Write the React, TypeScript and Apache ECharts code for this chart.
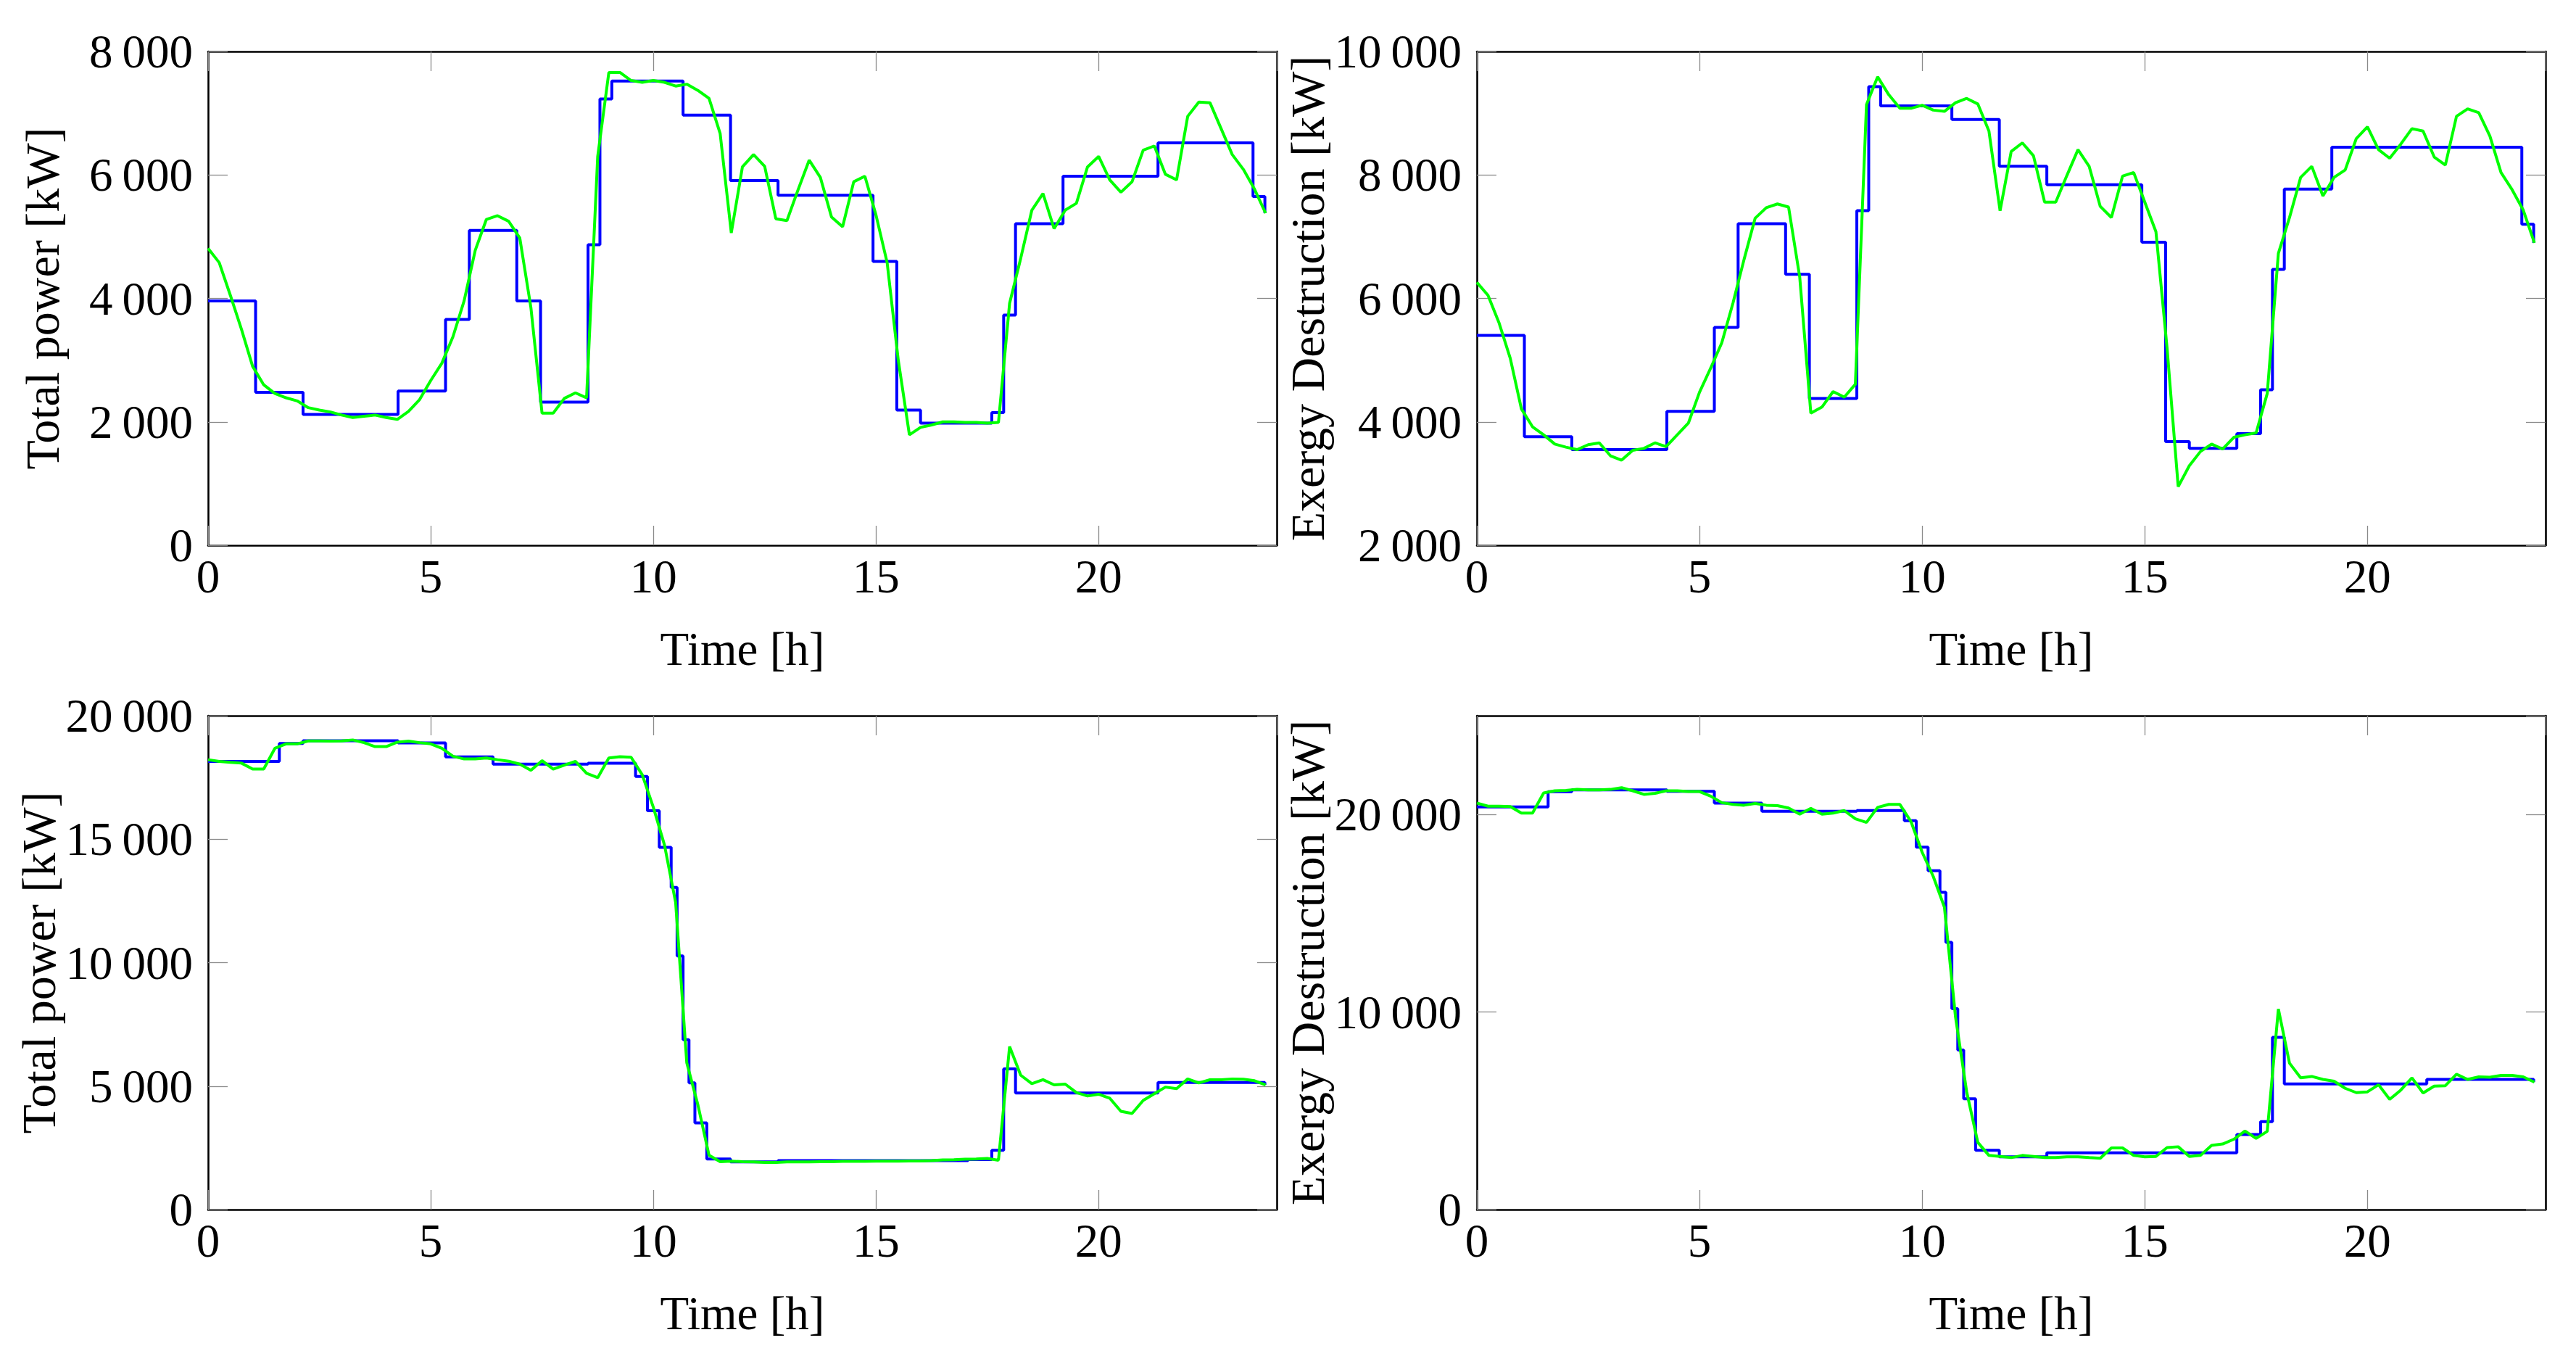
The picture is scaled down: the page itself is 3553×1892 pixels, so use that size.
import React, { useEffect, useRef } from 'react';
import * as echarts from 'echarts';

// ---- data -------------------------------------------------------------
const SAMPLE_STEP_H = 0.25; // green series sampled every 15 min

// Panel 1: Total power [kW] (top left)
const P1_STEP_TIMES = [0, 1.067, 2.133, 4.267, 5.333, 5.867, 6.933, 7.467, 8.533, 8.8, 9.067, 10.667, 11.733, 12.8, 14.933, 15.467, 16.0, 17.6, 17.867, 18.133, 19.2, 21.333, 23.467, 23.733];
const P1_STEP_VALUES = [3960, 2480, 2120, 2500, 3660, 5100, 3960, 2320, 4870, 7230, 7520, 6970, 5910, 5670, 4600, 2190, 1980, 2150, 3730, 5210, 5980, 6520, 5650, 5380];
const P1_GREEN = [
  4810, 4580, 4050, 3500, 2900, 2600, 2460, 2390, 2340, 2230,
  2190, 2160, 2110, 2070, 2090, 2110, 2070, 2040, 2170, 2360,
  2670, 2950, 3380, 3960, 4780, 5280, 5340, 5250, 4980, 3850,
  2140, 2140, 2380, 2470, 2390, 6300, 7660, 7660, 7530, 7500,
  7530, 7500, 7440, 7470, 7370, 7240, 6670, 5060, 6130, 6330,
  6140, 5290, 5260, 5760, 6240, 5960, 5320, 5160, 5890, 5980,
  5350, 4580, 3000, 1790, 1910, 1950, 2000, 2000, 1990, 1990,
  1980, 1990, 3920, 4650, 5430, 5700, 5130, 5430, 5540, 6130,
  6300, 5920, 5720, 5890, 6400, 6470, 6010, 5920, 6950, 7180,
  7170, 6750, 6330, 6090, 5770, 5380,
];

// Panel 2: Exergy Destruction [kW] (top right)
const P2_STEP_TIMES = [0, 1.067, 2.133, 4.267, 5.333, 5.867, 6.933, 7.467, 8.533, 8.8, 9.067, 10.667, 11.733, 12.8, 14.933, 15.467, 16.0, 17.067, 17.6, 17.867, 18.133, 19.2, 23.467, 23.733];
const P2_STEP_VALUES = [5400, 3760, 3550, 4170, 5530, 7210, 6390, 4380, 7420, 9430, 9120, 8900, 8140, 7840, 6910, 3680, 3570, 3810, 4520, 6470, 7770, 8450, 7200, 6900];
const P2_GREEN = [
  6260, 6050, 5600, 5030, 4210, 3920, 3790, 3640, 3590, 3550,
  3630, 3660, 3450, 3380, 3540, 3570, 3660, 3600, 3790, 3980,
  4480, 4870, 5280, 5920, 6630, 7300, 7470, 7530, 7480, 6350,
  4140, 4240, 4490, 4400, 4610, 9140, 9590, 9300, 9080, 9080,
  9130, 9050, 9030, 9170, 9240, 9150, 8710, 7420, 8380, 8520,
  8310, 7560, 7560, 7990, 8410, 8140, 7490, 7310, 7980, 8040,
  7560, 7080, 5200, 2950, 3290, 3520, 3640, 3560, 3750, 3790,
  3820, 4460, 6730, 7310, 7960, 8140, 7660, 7960, 8080, 8590,
  8780, 8410, 8270, 8500, 8750, 8710, 8290, 8160, 8950, 9070,
  9010, 8630, 8040, 7760, 7430, 6900,
];

// Panel 3: Total power [kW] (bottom left)
const P3_STEP_TIMES = [0, 1.6, 2.133, 4.267, 5.333, 6.4, 8.533, 9.6, 9.867, 10.133, 10.4, 10.533, 10.667, 10.8, 10.933, 11.2, 11.733, 12.8, 17.067, 17.6, 17.867, 18.133, 21.333, 23.733];
const P3_STEP_VALUES = [18150, 18880, 18990, 18900, 18330, 18040, 18080, 17540, 16150, 14670, 13050, 10270, 6880, 5130, 3510, 2050, 1930, 1980, 2030, 2400, 5700, 4720, 5150, 5050];
const P3_GREEN = [
  18220, 18150, 18110, 18080, 17840, 17840, 18680, 18860, 18860, 18980,
  18980, 18970, 18980, 19020, 18910, 18750, 18750, 18930, 18970, 18910,
  18860, 18680, 18360, 18250, 18250, 18290, 18220, 18160, 18040, 17790,
  18180, 17840, 18000, 18150, 17670, 17490, 18290, 18340, 18320, 17610,
  16290, 14760, 12440, 5950, 4240, 2200, 1940, 1960, 1940, 1930,
  1910, 1910, 1930, 1930, 1930, 1940, 1940, 1950, 1950, 1950,
  1960, 1960, 1960, 1970, 1970, 1980, 2010, 2020, 2040, 2050,
  2070, 2000, 6600, 5440, 5100, 5260, 5050, 5080, 4740, 4600,
  4670, 4510, 3980, 3890, 4420, 4690, 4960, 4900, 5290, 5130,
  5260, 5260, 5290, 5280, 5220, 5050,
];

// Panel 4: Exergy Destruction [kW] (bottom right)
const P4_STEP_TIMES = [0, 1.6, 2.133, 4.267, 5.333, 6.4, 8.533, 9.6, 9.867, 10.133, 10.4, 10.533, 10.667, 10.8, 10.933, 11.2, 11.733, 12.8, 17.067, 17.6, 17.867, 18.133, 21.333, 23.733];
const P4_STEP_VALUES = [20380, 21150, 21250, 21170, 20580, 20160, 20200, 19690, 18350, 17150, 16060, 13530, 10170, 8080, 5610, 3000, 2670, 2870, 3800, 4450, 8720, 6360, 6590, 6450];
const P4_GREEN = [
  20580, 20420, 20420, 20400, 20070, 20070, 21090, 21200, 21220, 21270,
  21250, 21250, 21270, 21360, 21200, 21020, 21070, 21200, 21200, 21160,
  21160, 20930, 20600, 20510, 20470, 20560, 20470, 20450, 20330, 20020,
  20310, 20020, 20070, 20200, 19780, 19600, 20360, 20510, 20510, 19640,
  18090, 16860, 15310, 9740, 5960, 3400, 2740, 2690, 2630, 2740,
  2690, 2630, 2630, 2670, 2670, 2630, 2600, 3120, 3120, 2740,
  2670, 2690, 3140, 3180, 2690, 2740, 3250, 3320, 3560, 3980,
  3600, 3960, 10150, 7410, 6670, 6740, 6590, 6500, 6140, 5920,
  5960, 6320, 5580, 6050, 6670, 5900, 6250, 6270, 6850, 6590,
  6720, 6700, 6790, 6790, 6720, 6450,
];

const X_MIN = 0;
const X_MAX = 24;
const X_INTERVAL = 5;
const X_LABEL = 'Time [h]';

const PANELS = [
  { yName: 'Total power [kW]', yMin: 0, yMax: 8000, yInterval: 2000, stepT: P1_STEP_TIMES, stepV: P1_STEP_VALUES, green: P1_GREEN },
  { yName: 'Exergy Destruction [kW]', yMin: 2000, yMax: 10000, yInterval: 2000, stepT: P2_STEP_TIMES, stepV: P2_STEP_VALUES, green: P2_GREEN },
  { yName: 'Total power [kW]', yMin: 0, yMax: 20000, yInterval: 5000, stepT: P3_STEP_TIMES, stepV: P3_STEP_VALUES, green: P3_GREEN },
  { yName: 'Exergy Destruction [kW]', yMin: 0, yMax: 25000, yInterval: 10000, stepT: P4_STEP_TIMES, stepV: P4_STEP_VALUES, green: P4_GREEN },
];

// ---- layout / style -----------------------------------------------------
const GRIDS = [
  { left: 287, top: 71, width: 1474, height: 681 },
  { left: 2037, top: 71, width: 1474, height: 681 },
  { left: 287, top: 987, width: 1474, height: 681 },
  { left: 2037, top: 987, width: 1474, height: 681 },
];
const FONT = 'Liberation Serif';
const FS_TICK = 65;
const FS_NAME = 66;

const fmt = (v: number) => {
  if (Math.abs(v) < 1000) return String(v);
  const th = Math.floor(v / 1000);
  const r = String(Math.round(v % 1000)).padStart(3, '0');
  return `${th}\u2009${r}`;
};

const tickStyle = { show: true, inside: true, length: 27, lineStyle: { color: '#8a8a8a', width: 1.3 } };
const lineStyleAxis = { show: true, onZero: false, lineStyle: { color: '#000', width: 2.6 } };

function buildOption() {
  const grid: any[] = [];
  const xAxis: any[] = [];
  const yAxis: any[] = [];
  const series: any[] = [];
  PANELS.forEach((p, i) => {
    grid.push({ ...GRIDS[i], containLabel: false });
    const xCommon = { type: 'value', gridIndex: i, min: X_MIN, max: X_MAX, interval: X_INTERVAL, splitLine: { show: false }, axisLine: lineStyleAxis, axisTick: tickStyle };
    xAxis.push({
      ...xCommon,
      position: 'bottom',
      name: X_LABEL,
      nameLocation: 'middle',
      nameGap: 110,
      nameTextStyle: { fontFamily: FONT, fontSize: FS_TICK, color: '#000' },
      axisLabel: { show: true, margin: 10, fontFamily: FONT, fontSize: FS_TICK, color: '#000', showMaxLabel: false },
    });
    xAxis.push({ ...xCommon, position: 'top', axisLabel: { show: false } });
    const yCommon = { type: 'value', gridIndex: i, min: p.yMin, max: p.yMax, interval: p.yInterval, splitLine: { show: false }, axisLine: lineStyleAxis, axisTick: tickStyle };
    yAxis.push({
      ...yCommon,
      position: 'left',
      name: p.yName,
      nameLocation: 'middle',
      nameGap: 196,
      nameTextStyle: { fontFamily: FONT, fontSize: FS_NAME, color: '#000' },
      axisLabel: {
        show: true, margin: 21, fontFamily: FONT, fontSize: FS_TICK, color: '#000',
        showMaxLabel: p.yMax % p.yInterval === 0,
        formatter: (v: number) => fmt(v),
      },
    });
    yAxis.push({ ...yCommon, position: 'right', axisLabel: { show: false } });

    series.push({
      type: 'line',
      xAxisIndex: 2 * i,
      yAxisIndex: 2 * i,
      step: 'end',
      symbol: 'none',
      lineStyle: { color: '#0000ff', width: 4 },
      data: p.stepT.map((t, k) => [t, p.stepV[k]]),
      z: 2,
    });
    series.push({
      type: 'line',
      xAxisIndex: 2 * i,
      yAxisIndex: 2 * i,
      symbol: 'none',
      lineStyle: { color: '#00ff00', width: 4 },
      data: p.green.map((v, k) => [k * SAMPLE_STEP_H, v]),
      z: 3,
    });
  });
  return { animation: false, backgroundColor: '#fff', grid, xAxis, yAxis, series };
}

export default function App() {
  const ref = useRef<HTMLDivElement>(null);
  useEffect(() => {
    if (!ref.current) return;
    const chart = echarts.init(ref.current, undefined, { renderer: 'svg' });
    chart.setOption(buildOption() as any);
    return () => chart.dispose();
  }, []);
  return <div ref={ref} style={{ position: 'absolute', left: 0, top: 0, width: 3553, height: 1892, background: '#fff' }} />;
}
